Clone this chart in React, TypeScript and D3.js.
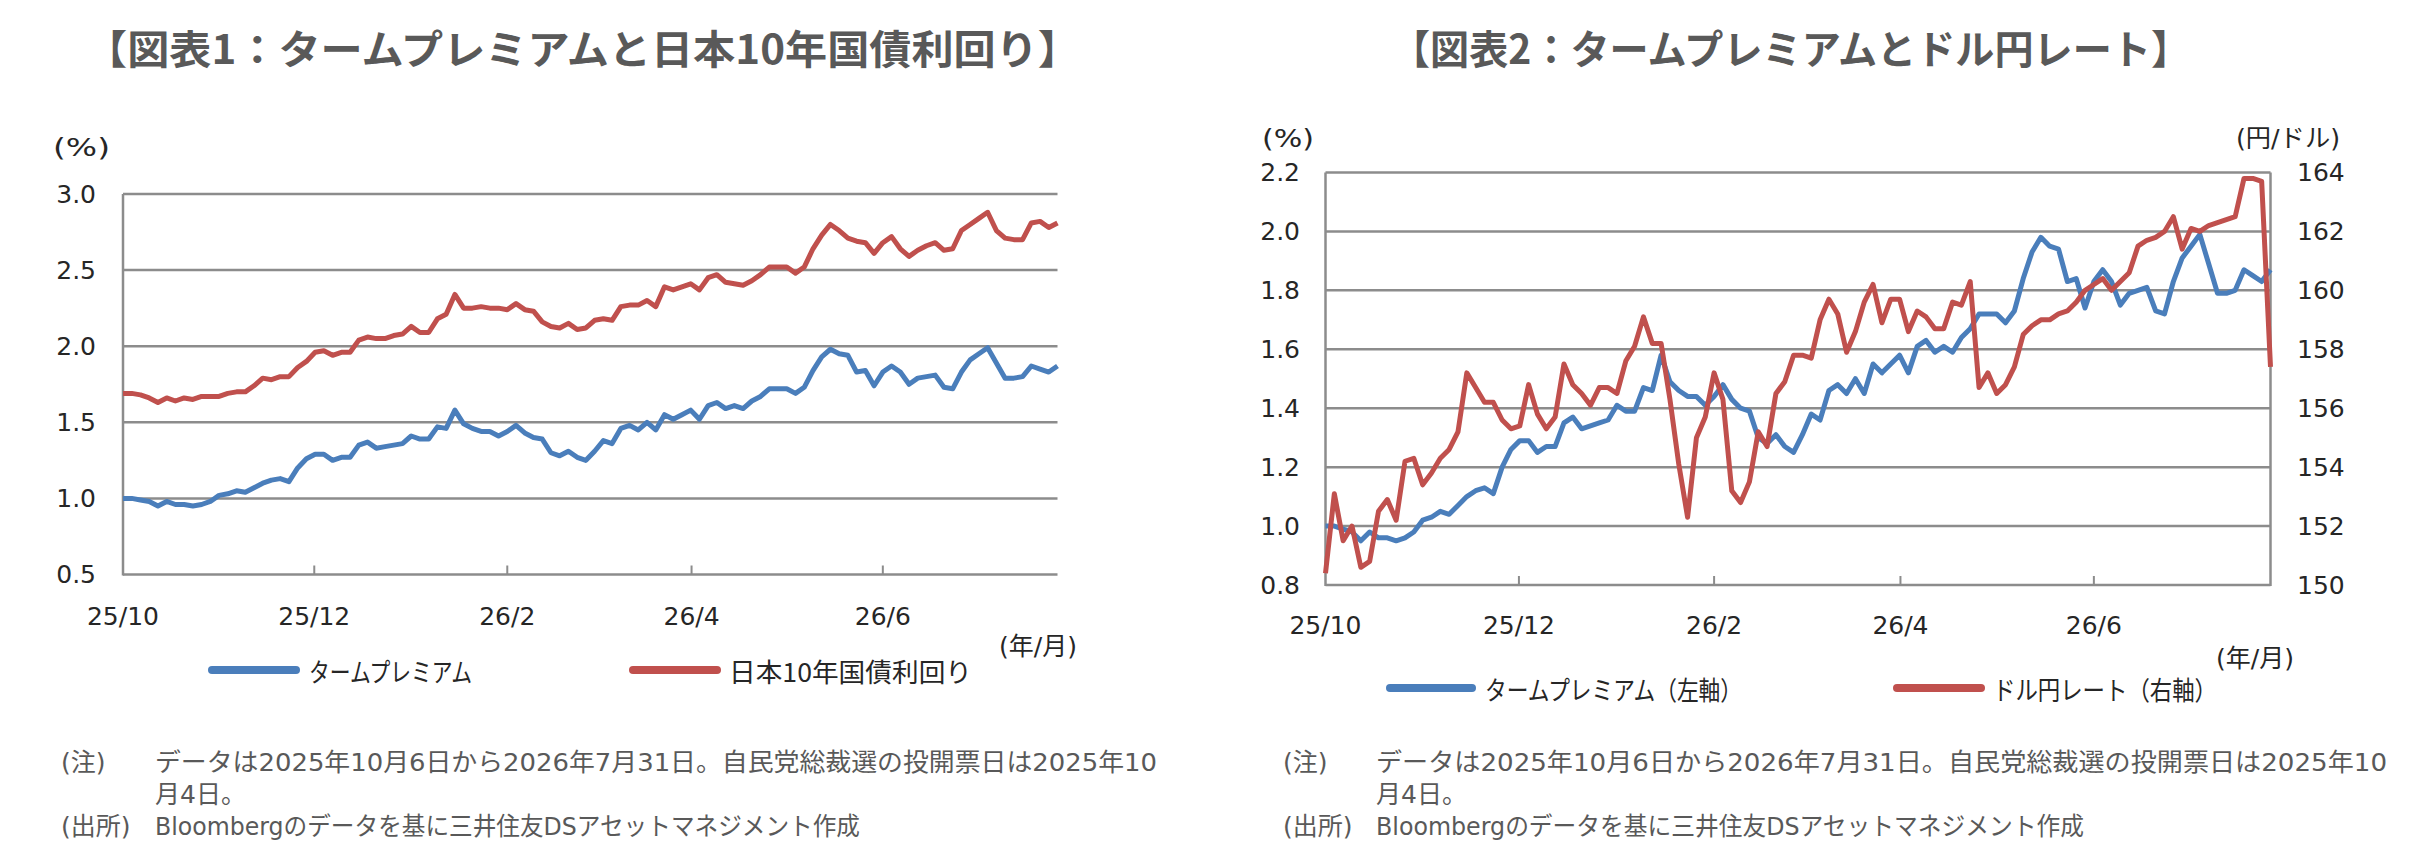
import { useEffect, useRef } from "react";
import * as d3 from "d3";

// Term premium (%), every 2nd business day, 2025/10/6 - 2026/7/31
const termPremium = [
  1.0, 1.0, 0.99, 0.98, 0.95, 0.98, 0.96, 0.96, 0.95, 0.96,
  0.98, 1.02, 1.03, 1.05, 1.04, 1.07, 1.1, 1.12, 1.13, 1.11,
  1.2, 1.26, 1.29, 1.29, 1.25, 1.27, 1.27, 1.35, 1.37, 1.33,
  1.34, 1.35, 1.36, 1.41, 1.39, 1.39, 1.47, 1.46, 1.58, 1.49,
  1.46, 1.44, 1.44, 1.41, 1.44, 1.48, 1.43, 1.4, 1.39, 1.3,
  1.28, 1.31, 1.27, 1.25, 1.31, 1.38, 1.36, 1.46, 1.48, 1.45,
  1.5, 1.45, 1.55, 1.52, 1.55, 1.58, 1.52, 1.61, 1.63, 1.59,
  1.61, 1.59, 1.64, 1.67, 1.72, 1.72, 1.72, 1.69, 1.73, 1.84,
  1.93, 1.98, 1.95, 1.94, 1.83, 1.84, 1.74, 1.83, 1.87, 1.83,
  1.75, 1.79, 1.8, 1.81, 1.73, 1.72, 1.83, 1.91, 1.95, 1.99,
  1.89, 1.79, 1.79, 1.8, 1.87, 1.85, 1.83, 1.87,
];

// Japan 10y government bond yield (%)
const jgb10y = [
  1.69, 1.69, 1.68, 1.66, 1.63, 1.66, 1.64, 1.66, 1.65, 1.67,
  1.67, 1.67, 1.69, 1.7, 1.7, 1.74, 1.79, 1.78, 1.8, 1.8,
  1.86, 1.9, 1.96, 1.97, 1.94, 1.96, 1.96, 2.04, 2.06, 2.05,
  2.05, 2.07, 2.08, 2.13, 2.09, 2.09, 2.18, 2.21, 2.34, 2.25,
  2.25, 2.26, 2.25, 2.25, 2.24, 2.28, 2.24, 2.23, 2.16, 2.13,
  2.12, 2.15, 2.11, 2.12, 2.17, 2.18, 2.17, 2.26, 2.27, 2.27,
  2.3, 2.26, 2.39, 2.37, 2.39, 2.41, 2.37, 2.45, 2.47, 2.42,
  2.41, 2.4, 2.43, 2.47, 2.52, 2.52, 2.52, 2.48, 2.52, 2.64,
  2.73, 2.8, 2.76, 2.71, 2.69, 2.68, 2.61, 2.68, 2.72, 2.64,
  2.59, 2.63, 2.66, 2.68, 2.63, 2.64, 2.76, 2.8, 2.84, 2.88,
  2.76, 2.71, 2.7, 2.7, 2.81, 2.82, 2.78, 2.81,
];

// USD/JPY (yen per dollar)
const usdJpy = [
  150.4, 153.1, 151.5, 152.0, 150.6, 150.8, 152.5, 152.9, 152.2, 154.2,
  154.3, 153.4, 153.8, 154.3, 154.6, 155.2, 157.2, 156.7, 156.2, 156.2,
  155.6, 155.3, 155.4, 156.8, 155.8, 155.3, 155.7, 157.5, 156.8, 156.5,
  156.1, 156.7, 156.7, 156.5, 157.6, 158.1, 159.1, 158.2, 158.2, 156.3,
  154.1, 152.3, 155.0, 155.7, 157.2, 156.3, 153.2, 152.8, 153.5, 155.2,
  154.7, 156.5, 156.9, 157.8, 157.8, 157.7, 159.0, 159.7, 159.2, 157.9,
  158.6, 159.6, 160.2, 158.9, 159.7, 159.7, 158.6, 159.3, 159.1, 158.7,
  158.7, 159.6, 159.5, 160.3, 156.7, 157.2, 156.5, 156.8, 157.4, 158.5,
  158.8, 159.0, 159.0, 159.2, 159.3, 159.6, 160.0, 160.2, 160.4, 160.0,
  160.3, 160.6, 161.5, 161.7, 161.8, 162.0, 162.5, 161.4, 162.1, 162.0,
  162.2, 162.3, 162.4, 162.5, 163.8, 163.8, 163.7, 157.4,
];

const xTickLabels = ["25/10", "25/12", "26/2", "26/4", "26/6"];
const xTickPos = [0, 21.9, 44, 65.1, 87];
const yTicks1 = [0.5, 1.0, 1.5, 2.0, 2.5, 3.0];
const yTicks2Left = [0.8, 1.0, 1.2, 1.4, 1.6, 1.8, 2.0, 2.2];
const yTicks2Right = [150, 152, 154, 156, 158, 160, 162, 164];

const BLUE = "#4a7ebb";
const RED = "#c0504d";
const GRID = "#8c8c8c";
const FONT = "'DejaVu Sans', 'Noto Sans CJK JP', sans-serif";
const JP = "'Noto Sans CJK JP', sans-serif";
const NOTE = "データは2025年10月6日から2026年7月31日。自民党総裁選の投開票日は2025年10";
const SOURCE = "Bloombergのデータを基に三井住友DSアセットマネジメント作成";

export default function App() {
  const svgRef = useRef<SVGSVGElement>(null);

  useEffect(() => {
    if (!svgRef.current) return;
    const svg = d3.select(svgRef.current);
    svg.selectAll("*").remove();

    svg.append("rect").attr("width", 2419).attr("height", 861).attr("fill", "#fff");

    const label = (
      x: number,
      y: number,
      s: string,
      o: { size?: number; anchor?: string; fill?: string; weight?: string; family?: string; len?: number } = {}
    ) => {
      const t = svg
        .append("text")
        .attr("x", x)
        .attr("y", y)
        .attr("text-anchor", o.anchor ?? "start")
        .attr("dominant-baseline", "central")
        .attr("font-size", o.size ?? 25)
        .attr("font-family", o.family ?? FONT)
        .attr("font-weight", o.weight ?? "normal")
        .attr("fill", o.fill ?? "#262626")
        .text(s);
      if (o.len) t.attr("textLength", o.len).attr("lengthAdjust", "spacingAndGlyphs");
    };

    const legendItem = (x1: number, x2: number, y: number, color: string, tx: number, s: string, len: number) => {
      svg
        .append("line")
        .attr("x1", x1)
        .attr("x2", x2)
        .attr("y1", y)
        .attr("y2", y)
        .attr("stroke", color)
        .attr("stroke-width", 8)
        .attr("stroke-linecap", "round");
      label(tx, y, s, { size: 26, family: JP, len });
    };

    const drawLine = (data: number[], color: string, x: d3.ScaleLinear<number, number>, y: d3.ScaleLinear<number, number>) => {
      svg
        .append("path")
        .datum(data)
        .attr("fill", "none")
        .attr("stroke", color)
        .attr("stroke-width", 5)
        .attr("stroke-linejoin", "round")
        .attr(
          "d",
          d3
            .line<number>()
            .x((_, i) => x(i))
            .y((d) => y(d))
        );
    };

    const plot = (cfg: {
      left: number;
      right: number;
      top: number;
      bottom: number;
      yDomain: [number, number];
      yTicks: number[];
      yLabelX: number;
      lines: number[][];
      right2?: { domain: [number, number]; ticks: number[]; series: number[]; labelX: number };
      xLabelY: number;
    }) => {
      const x = d3.scaleLinear().domain([0, termPremium.length - 1]).range([cfg.left, cfg.right]);
      const y = d3.scaleLinear().domain(cfg.yDomain).range([cfg.bottom, cfg.top]);
      const g = svg.append("g");

      // Gridlines
      g.selectAll("line.grid")
        .data(cfg.yTicks)
        .join("line")
        .attr("x1", cfg.left)
        .attr("x2", cfg.right)
        .attr("y1", (d) => y(d))
        .attr("y2", (d) => y(d))
        .attr("stroke", GRID)
        .attr("stroke-width", 2.5);

      // Axes
      const axisXs = cfg.right2 ? [cfg.left, cfg.right] : [cfg.left];
      axisXs.forEach((ax) =>
        g.append("line")
          .attr("x1", ax)
          .attr("x2", ax)
          .attr("y1", cfg.top)
          .attr("y2", cfg.bottom + 1)
          .attr("stroke", GRID)
          .attr("stroke-width", 2.5)
      );
      g.selectAll("line.tick")
        .data(xTickPos.slice(1))
        .join("line")
        .attr("x1", (d) => x(d))
        .attr("x2", (d) => x(d))
        .attr("y1", cfg.bottom)
        .attr("y2", cfg.bottom - 9)
        .attr("stroke", GRID)
        .attr("stroke-width", 2);

      cfg.yTicks.forEach((t) => label(cfg.yLabelX, y(t), t.toFixed(1), { anchor: "end" }));
      xTickPos.forEach((p, i) => label(x(p), cfg.xLabelY, xTickLabels[i], { anchor: "middle" }));

      const colors = [BLUE, RED];
      cfg.lines.forEach((s, k) => drawLine(s, colors[k], x, y));

      if (cfg.right2) {
        const y2 = d3.scaleLinear().domain(cfg.right2.domain).range([cfg.bottom, cfg.top]);
        cfg.right2.ticks.forEach((t) => label(cfg.right2!.labelX, y2(t), String(t)));
        drawLine(cfg.right2.series, RED, x, y2);
      }
    };

    // ---- Chart 1 ----
    label(85, 47, "【図表1：タームプレミアムと日本10年国債利回り】", {
      size: 40,
      weight: "bold",
      family: JP,
      fill: "#595959",
      len: 995,
    });
    label(53, 147, "(%)", { len: 57 });
    plot({
      left: 123,
      right: 1057.5,
      top: 194,
      bottom: 574.5,
      yDomain: [0.5, 3.0],
      yTicks: yTicks1,
      yLabelX: 96,
      lines: [termPremium, jgb10y],
      xLabelY: 616,
    });
    label(1038, 646, "(年/月)", { anchor: "middle" });
    legendItem(212, 296, 670, BLUE, 309, "タームプレミアム", 163);
    legendItem(633, 717, 670, RED, 729, "日本10年国債利回り", 243);

    label(61, 762, "(注)", { fill: "#595959" });
    label(155, 762, NOTE, { fill: "#595959", len: 1002 });
    label(155, 794, "月4日。", { fill: "#595959" });
    label(61, 826, "(出所)", { fill: "#595959" });
    label(155, 826, SOURCE, { fill: "#595959", len: 705 });

    // ---- Chart 2 ----
    label(1391, 47, "【図表2：タームプレミアムとドル円レート】", {
      size: 40,
      weight: "bold",
      family: JP,
      fill: "#595959",
      len: 799,
    });
    label(1262, 138, "(%)", { len: 52 });
    label(2236, 138, "(円/ドル)", { len: 104 });
    plot({
      left: 1325.5,
      right: 2270.5,
      top: 172.5,
      bottom: 585,
      yDomain: [0.8, 2.2],
      yTicks: yTicks2Left,
      yLabelX: 1300,
      lines: [termPremium],
      right2: { domain: [150, 164], ticks: yTicks2Right, series: usdJpy, labelX: 2297 },
      xLabelY: 625,
    });
    label(2255, 658, "(年/月)", { anchor: "middle" });
    legendItem(1390, 1472, 688, BLUE, 1485, "タームプレミアム（左軸）", 257);
    legendItem(1897, 1981, 688, RED, 1993, "ドル円レート（右軸）", 224);

    label(1283, 762, "(注)", { fill: "#595959" });
    label(1376, 762, NOTE, { fill: "#595959", len: 1011 });
    label(1376, 794, "月4日。", { fill: "#595959" });
    label(1283, 826, "(出所)", { fill: "#595959" });
    label(1376, 826, SOURCE, { fill: "#595959", len: 708 });
  }, []);

  return (
    <svg
      ref={svgRef}
      width={2419}
      height={861}
      viewBox="0 0 2419 861"
      style={{ position: "absolute", left: 0, top: 0 }}
    />
  );
}
